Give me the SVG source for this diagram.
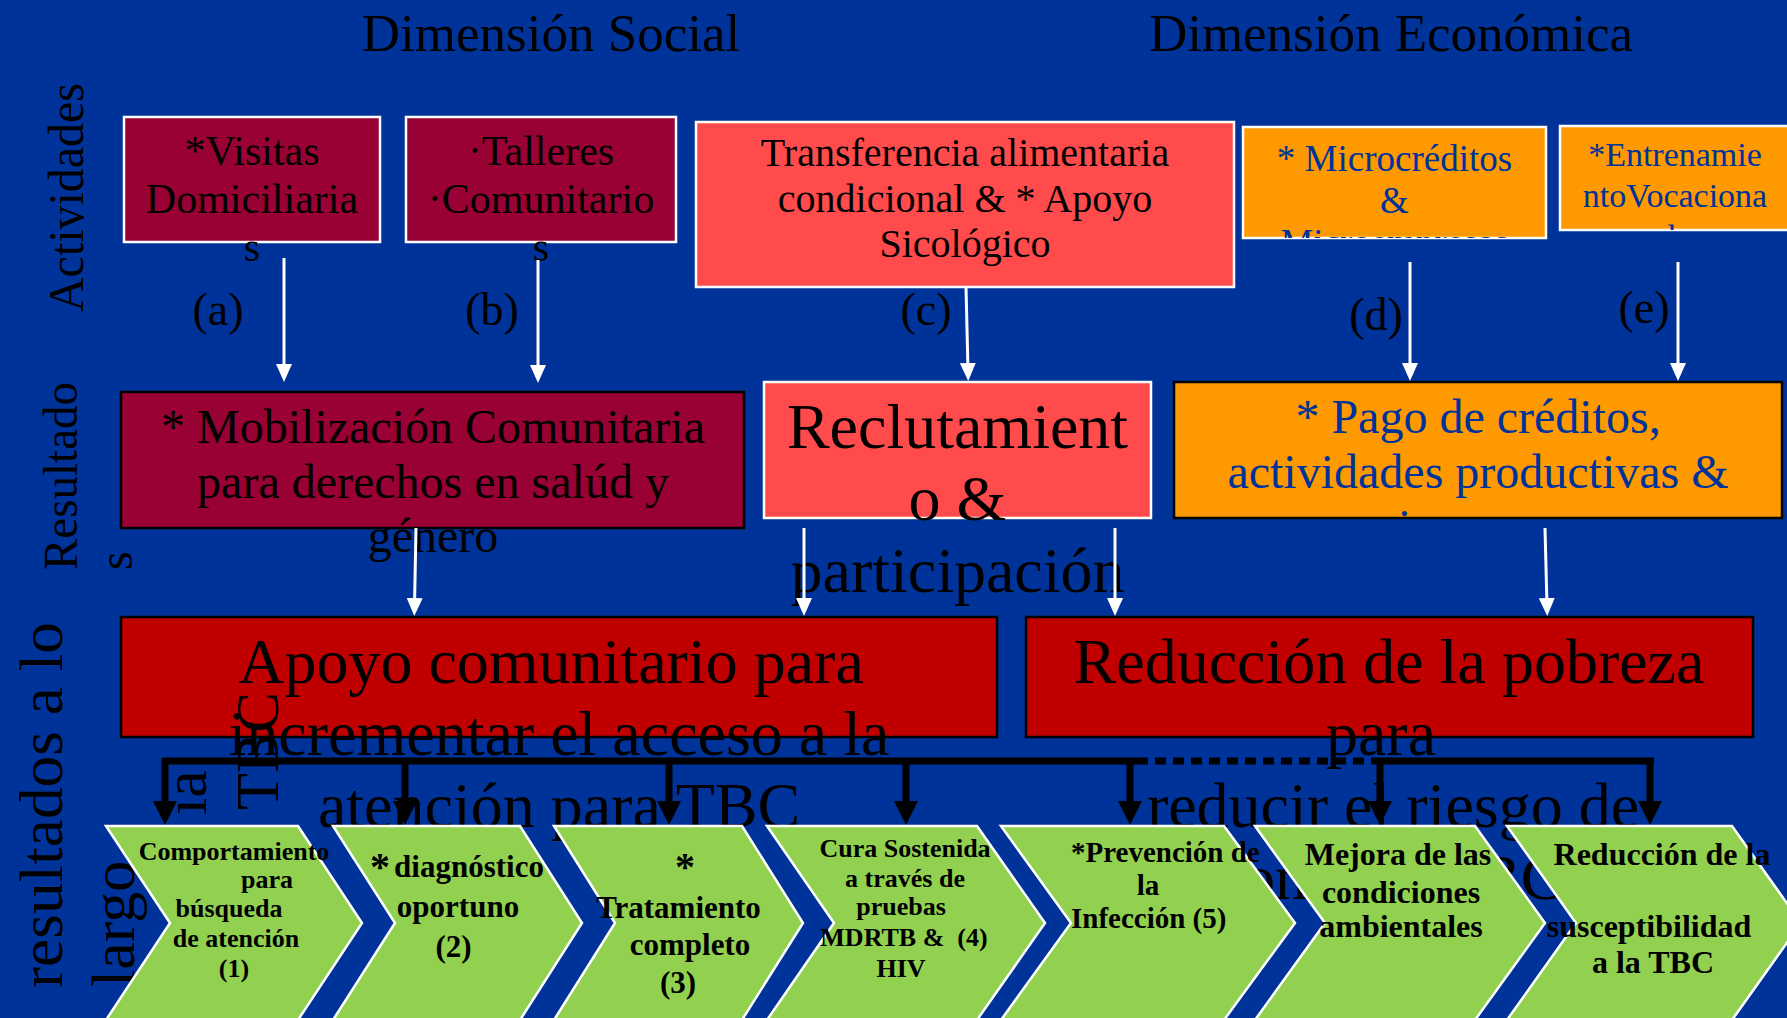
<svg xmlns="http://www.w3.org/2000/svg" width="1787" height="1018" viewBox="0 0 1787 1018">
<style>
text { font-family: "Liberation Serif", "Times New Roman", serif; fill: #000; }
.title { font-size: 53px; text-anchor: middle; }
.lbl { font-size: 46px; text-anchor: middle; }
.m { text-anchor: middle; }
.crim { fill: #990033; }
.salmon { fill: #FF4B4B; }
.orange { fill: #FF9900; }
.red { fill: #C00000; }
.ws { stroke: #FFFFFF; stroke-width: 2.5; }
.bs { stroke: #000000; stroke-width: 2.5; }
.bluet { fill: #003399; }
.chev { fill: #92D050; stroke: #FFFFFF; stroke-width: 2.5; }
.ct { font-weight: bold; text-anchor: middle; }
.wa { stroke: #FFFFFF; stroke-width: 3; fill: none; marker-end: url(#wh); }
.bl { stroke: #000000; stroke-width: 7; fill: none; }
.ba { stroke: #000000; stroke-width: 7; fill: none; marker-end: url(#bh); }
.dot { stroke-dasharray: 11 7; }
</style>
<defs>
<marker id="wh" markerUnits="userSpaceOnUse" markerWidth="18" markerHeight="16" refX="8" refY="8" orient="auto">
<path d="M0,0 L18,8 L0,16 z" fill="#FFFFFF"/>
</marker>
<marker id="bh" markerUnits="userSpaceOnUse" markerWidth="24" markerHeight="24" refX="4" refY="12" orient="auto">
<path d="M0,0 L24,12 L0,24 z" fill="#000000"/>
</marker>
<clipPath id="clipD"><rect x="1243" y="127" width="303" height="111"/></clipPath>
<clipPath id="clipE"><rect x="1560" y="126" width="240" height="104"/></clipPath>
<clipPath id="clipP"><rect x="1174" y="382" width="608" height="136"/></clipPath>
</defs>
<rect x="0" y="0" width="1787" height="1018" fill="#003399"/>

<g id="titles">
<text class="title" x="551" y="51">Dimensión Social</text>
<text class="title" x="1391" y="51">Dimensión Económica</text>
</g>

<g id="node-a">
<rect class="crim ws" x="124" y="117" width="256" height="125"/>
<text class="m" font-size="42" x="252" y="165">*Visitas</text>
<text class="m" font-size="42" x="252" y="213">Domiciliaria</text>
<text class="m" font-size="42" x="252" y="261">s</text>
</g>
<g id="node-b">
<rect class="crim ws" x="406" y="117" width="270" height="125"/>
<text class="m" font-size="42" x="541" y="165">·Talleres</text>
<text class="m" font-size="42" x="541" y="213">·Comunitario</text>
<text class="m" font-size="42" x="541" y="261">s</text>
</g>
<g id="node-c">
<rect class="salmon ws" x="696" y="122" width="538" height="165"/>
<text class="m" font-size="40" x="965" y="166">Transferencia alimentaria</text>
<text class="m" font-size="40" x="965" y="212">condicional &amp; * Apoyo</text>
<text class="m" font-size="40" x="965" y="257">Sicológico</text>
</g>
<g id="node-d">
<rect class="orange ws" x="1243" y="127" width="303" height="111"/>
<g clip-path="url(#clipD)">
<text class="m bluet" font-size="37" x="1394.5" y="171">* Microcréditos</text>
<text class="m bluet" font-size="37" x="1394.5" y="213">&amp;</text>
<text class="m bluet" font-size="37" x="1394.5" y="255">Microempresas</text>
</g>
</g>
<g id="node-e">
<rect class="orange ws" x="1560" y="126" width="240" height="104"/>
<g clip-path="url(#clipE)">
<text class="m bluet" font-size="34" x="1675" y="166">*Entrenamie</text>
<text class="m bluet" font-size="34" x="1675" y="207">ntoVocaciona</text>
<text class="m bluet" font-size="34" x="1672" y="248">l</text>
</g>
</g>

<g id="labels">
<text class="lbl" x="218" y="325">(a)</text>
<text class="lbl" x="492" y="325">(b)</text>
<text class="lbl" x="926" y="325">(c)</text>
<text class="lbl" x="1376" y="330">(d)</text>
<text class="lbl" x="1644" y="323">(e)</text>
</g>

<g id="node-mobilizacion">
<rect class="crim bs" x="121" y="392" width="623" height="136"/>
<text class="m" font-size="48" x="433" y="443">* Mobilización Comunitaria</text>
<text class="m" font-size="48" x="433" y="498">para derechos en salúd y</text>
<text class="m" font-size="48" x="433" y="552">género</text>
</g>
<g id="node-reclutamiento">
<rect class="salmon ws" x="764" y="382" width="387" height="136"/>
<text class="m" font-size="64" x="957.5" y="448">Reclutamient</text>
<text class="m" font-size="64" x="957.5" y="520">o &amp;</text>
<text class="m" font-size="64" x="957.5" y="592">participación</text>
</g>
<g id="node-pago">
<rect class="orange bs" x="1174" y="382" width="608" height="136"/>
<text class="m bluet" font-size="48" x="1478" y="433">* Pago de créditos,</text>
<text class="m bluet" font-size="48" x="1478" y="488">actividades productivas &amp;</text>
<g clip-path="url(#clipP)">
<text class="m bluet" font-size="48" x="1478" y="543">ingresos</text>
</g>
</g>

<g id="node-apoyo">
<rect class="red bs" x="121" y="617" width="876" height="120"/>
<text class="m" font-size="64" x="551" y="683">Apoyo comunitario para</text>
<text class="m" font-size="64" x="559" y="755">incrementar el acceso a la</text>
<text class="m" font-size="64" x="559" y="827">atención para TBC</text>
</g>
<g id="node-reduccion">
<rect class="red bs" x="1026" y="617" width="727" height="120"/>
<text class="m" font-size="64" x="1389" y="683">Reducción de la pobreza</text>
<text class="m" font-size="64" x="1381" y="755">para</text>
<text class="m" font-size="64" x="1393" y="827">reducir el riesgo de</text>
<text class="m" font-size="64" x="1389" y="899">contraer TBC</text>
</g>

<g id="connectors">
<line class="wa" x1="284" y1="258" x2="284" y2="372"/>
<line class="wa" x1="538" y1="260" x2="538" y2="373"/>
<line class="wa" x1="966" y1="287" x2="968" y2="371"/>
<line class="wa" x1="1410" y1="262" x2="1410" y2="371"/>
<line class="wa" x1="1678" y1="262" x2="1678" y2="371"/>
<line class="wa" x1="416" y1="528" x2="414.5" y2="606"/>
<line class="wa" x1="804" y1="528" x2="804" y2="606"/>
<line class="wa" x1="1115" y1="528" x2="1115" y2="606"/>
<line class="wa" x1="1545" y1="528" x2="1547" y2="606"/>
<line class="bl" x1="162" y1="761" x2="1137" y2="761"/>
<line class="bl dot" x1="1137" y1="761" x2="1377" y2="761"/>
<line class="bl" x1="1377" y1="761" x2="1654" y2="761"/>
<line class="ba" x1="165" y1="758" x2="165" y2="805"/>
<line class="ba" x1="405" y1="758" x2="405" y2="805"/>
<line class="ba" x1="669" y1="758" x2="669" y2="805"/>
<line class="ba" x1="906" y1="758" x2="906" y2="805"/>
<line class="ba" x1="1130" y1="758" x2="1130" y2="805"/>
<line class="ba" x1="1380" y1="758" x2="1380" y2="805"/>
<line class="ba" x1="1650" y1="758" x2="1650" y2="805"/>
</g>

<g id="side-labels">
<text font-size="50" textLength="229" lengthAdjust="spacingAndGlyphs" transform="translate(83,312) rotate(-90)">Actividades</text>
<text font-size="48" textLength="188" lengthAdjust="spacingAndGlyphs" transform="translate(77,570) rotate(-90)">Resultado</text>
<text font-size="48" transform="translate(132,570) rotate(-90)">s</text>
<text font-size="62" textLength="366" lengthAdjust="spacingAndGlyphs" transform="translate(62,988) rotate(-90)">resultados a lo</text>
<text font-size="62" transform="translate(134,987) rotate(-90)">largo</text>
<text font-size="62" transform="translate(206,815) rotate(-90)">ia</text>
<text font-size="62" textLength="118" lengthAdjust="spacingAndGlyphs" transform="translate(278,810) rotate(-90)">TBC</text>
</g>

<g id="chevron-1">
<polygon class="chev" points="106,826 298,826 362,923 298,1020 106,1020 170,923"/>
<text class="ct" font-size="26" x="234" y="860">Comportamiento</text>
<text class="ct" font-size="26" x="267" y="888">para</text>
<text class="ct" font-size="26" x="229" y="917">búsqueda</text>
<text class="ct" font-size="26" x="236" y="947">de atención</text>
<text class="ct" font-size="26" x="234" y="977">(1)</text>
</g>
<g id="chevron-2">
<polygon class="chev" points="333,826 520,826 582,923 520,1020 333,1020 395,923"/>
<text class="ct" font-size="40" x="380" y="880">*</text>
<text class="ct" font-size="31" x="469" y="877">diagnóstico</text>
<text class="ct" font-size="31" x="458" y="917">oportuno</text>
<text class="ct" font-size="31" x="453.5" y="957">(2)</text>
</g>
<g id="chevron-3">
<polygon class="chev" points="554,826 742,826 803,923 742,1020 554,1020 615,923"/>
<text class="ct" font-size="40" x="685" y="880">*</text>
<text class="ct" font-size="31" x="678.5" y="918">Tratamiento</text>
<text class="ct" font-size="31" x="690" y="955">completo</text>
<text class="ct" font-size="31" x="678" y="993">(3)</text>
</g>
<g id="chevron-4">
<polygon class="chev" points="767,826 977,826 1045,923 977,1020 767,1020 834,923"/>
<text class="ct" font-size="26" x="905" y="857">Cura Sostenida</text>
<text class="ct" font-size="26" x="905" y="887">a través de</text>
<text class="ct" font-size="26" x="901" y="915">pruebas</text>
<text class="ct" font-size="26" x="904" y="946" style="white-space:pre">MDRTB &amp;  (4)</text>
<text class="ct" font-size="26" x="901" y="977">HIV</text>
</g>
<g id="chevron-5">
<polygon class="chev" points="1001,826 1224,826 1295,923 1224,1020 1001,1020 1071,923"/>
<text font-weight="bold" font-size="29" x="1071" y="862">*Prevención de</text>
<text class="ct" font-size="29" x="1148" y="895">la</text>
<text font-weight="bold" font-size="29" x="1071" y="928">Infección (5)</text>
</g>
<g id="chevron-6">
<polygon class="chev" points="1255,826 1475,826 1545,923 1475,1020 1255,1020 1325,923"/>
<text class="ct" font-size="32" x="1398" y="865">Mejora de las</text>
<text class="ct" font-size="32" x="1401" y="903">condiciones</text>
<text class="ct" font-size="32" x="1401" y="937">ambientales</text>
</g>
<g id="chevron-7">
<polygon class="chev" points="1507,826 1732,826 1801,923 1732,1020 1507,1020 1576,923"/>
<text class="ct" font-size="32" x="1662" y="865">Reducción de la</text>
<text class="ct" font-size="32" x="1649" y="937">susceptibilidad</text>
<text class="ct" font-size="32" x="1653" y="973">a la TBC</text>
</g>
</svg>
